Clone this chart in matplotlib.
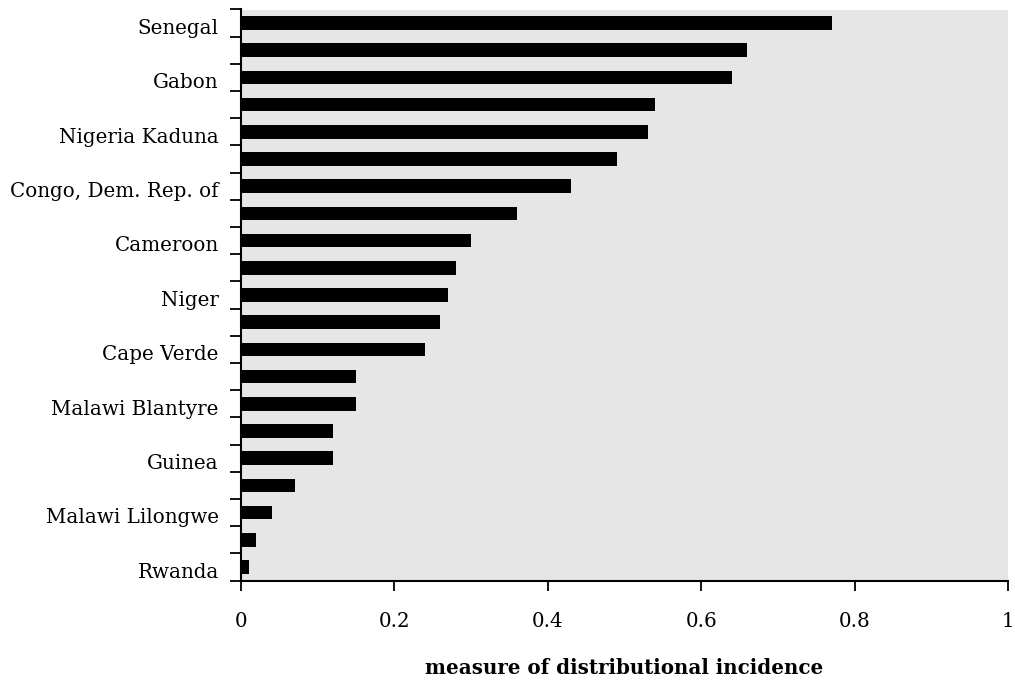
import numpy as np
import matplotlib
matplotlib.use("Agg")
import matplotlib.pyplot as plt

# Countries/cities ordered from highest to lowest; blank entries are unlabeled rows
countries = [
    "Senegal", "", "Gabon", "", "Nigeria Kaduna", "", "Congo, Dem. Rep. of", "",
    "Cameroon", "", "Niger", "", "Cape Verde", "", "Malawi Blantyre", "",
    "Guinea", "", "Malawi Lilongwe", "", "Rwanda",
]
incidence = [
    0.77, 0.66, 0.64, 0.54, 0.53, 0.49, 0.43, 0.36, 0.30, 0.28, 0.27,
    0.26, 0.24, 0.15, 0.15, 0.12, 0.12, 0.07, 0.04, 0.02, 0.01,
]
x_ticks = [0, 0.2, 0.4, 0.6, 0.8, 1.0]
x_tick_labels = ["0", "0.2", "0.4", "0.6", "0.8", "1"]

plt.rcParams["font.family"] = ["DejaVu Serif"]

fig = plt.figure(figsize=(10.15, 6.81), dpi=100)
ax = fig.add_axes([241 / 1015, 1 - 580.5 / 681, 767 / 1015, 571 / 681])
ax.set_facecolor("#e6e6e6")

y = np.arange(len(countries))
ax.barh(y, incidence, height=0.5, color="black", zorder=3)

ax.set_xlim(0, 1)
ax.set_ylim(len(countries) - 0.5, -0.5)

# Category boundaries carry the tick marks; labels sit at the bar centres
ax.set_yticks(np.arange(-0.5, len(countries), 1))
ax.set_yticklabels([])
ax.set_yticks(y + 0.12, minor=True)
ax.set_yticklabels(countries, minor=True, fontsize=14.3)
ax.tick_params(axis="y", which="major", direction="out", length=8, width=1.3, color="black")
ax.tick_params(axis="y", which="minor", length=0, pad=16)

ax.set_xticks(x_ticks)
ax.set_xticklabels(x_tick_labels, fontsize=14.3)
ax.tick_params(axis="x", direction="out", length=7, width=1.3, pad=16)

for side in ("top", "right"):
    ax.spines[side].set_visible(False)
for side in ("left", "bottom"):
    ax.spines[side].set_linewidth(1.5)
    ax.spines[side].set_color("black")

ax.set_xlabel("measure of distributional incidence", fontsize=14.3, fontweight="bold", labelpad=19)

fig.savefig("out.png", dpi=100, facecolor="white")
